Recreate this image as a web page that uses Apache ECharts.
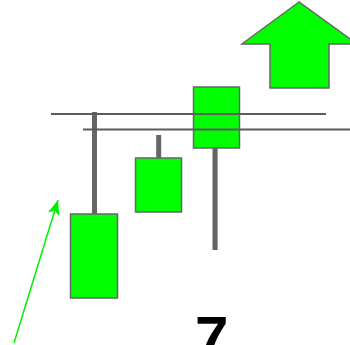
<!DOCTYPE html>
<html>
<head>
<meta charset="utf-8">
<script src="https://cdn.jsdelivr.net/npm/echarts@6/dist/echarts.min.js"></script>
<style>
  html, body { margin: 0; padding: 0; background: #fff; }
  #main { width: 350px; height: 345px; }
</style>
</head>
<body>
<div id="main"></div>
<script>
// candle positions on the x scale and their open / close / low / high
var candleX = [94, 158.5, 216.5];
var wickX = [94.5, 158.7, 215];
var candleOpen = [47, 133, 197];
var candleClose = [131, 187, 258];
var candleLow = [47, 133, 95];
var candleHigh = [233, 210, 258];

// two horizontal levels: [x start, x end, y]
var levelStart = [51, 83];
var levelEnd = [326, 352];
var levelY = [231, 215.5];

// big up arrow outline
var upArrowX = [299, 242, 270, 270, 329, 329, 357];
var upArrowY = [343, 301, 301, 257, 257, 301, 301];

// thin trend arrow
var trendFrom = [14, 2];
var trendTo = [58, 145];

var labelText = '7';

var dom = document.getElementById('main');
var myChart = echarts.init(dom);

var candleData = candleX.map(function(x, i) {
    return [x, candleOpen[i], candleClose[i], candleLow[i], candleHigh[i]];
});
var wickData = wickX.map(function(x, i) {
    return [x, candleLow[i], candleHigh[i]];
});
var arrowData = upArrowX.map(function(x, i) {
    return [x, upArrowY[i]];
});

var series = [
    {
        type: 'custom',
        z: 1,
        data: wickData,
        encode: {x: 0, y: [1, 2]},
        renderItem: function(params, api) {
            var lo = api.coord([api.value(0), api.value(1)]);
            var hi = api.coord([api.value(0), api.value(2)]);
            return {
                type: 'line',
                shape: {x1: lo[0], y1: lo[1], x2: hi[0], y2: hi[1]},
                style: {stroke: '#666666', lineWidth: 5}
            };
        }
    },
    {
        type: 'candlestick',
        z: 2,
        barWidth: 47,
        data: candleData,
        encode: {x: 0, y: [1, 2, 3, 4]},
        itemStyle: {
            color: '#00ff00',
            color0: '#00ff00',
            borderColor: '#666666',
            borderColor0: '#666666',
            borderWidth: 1.5
        },
        emphasis: {disabled: true}
    },
    {
        type: 'custom',
        z: 2,
        data: arrowData,
        renderItem: function(params, api) {
            if (params.dataIndex !== 0) return;
            var pts = arrowData.map(function(p) { return api.coord(p); });
            return {
                type: 'polygon',
                shape: {points: pts},
                style: {fill: '#00ff00', stroke: '#666666', lineWidth: 1.5}
            };
        }
    }
];

levelY.forEach(function(y, i) {
    series.push({
        type: 'line',
        z: 3,
        symbol: 'none',
        silent: true,
        data: [[levelStart[i], y], [levelEnd[i], y]],
        lineStyle: {color: '#5c5c5c', width: 2}
    });
});

series.push({
    type: 'line',
    z: 3,
    symbol: 'none',
    data: [],
    markLine: {
        silent: true,
        symbol: ['none', 'arrow'],
        symbolSize: [9, 15],
        label: {show: false},
        lineStyle: {color: '#00ee00', width: 1.5, type: 'solid'},
        data: [[{coord: trendFrom}, {coord: trendTo}]]
    }
});

var option = {
    animation: false,
    grid: {left: 0, right: 0, top: 0, bottom: 0},
    xAxis: {type: 'value', min: 0, max: 350, show: false},
    yAxis: {type: 'value', min: 0, max: 345, show: false},
    title: {
        text: labelText,
        left: 190,
        top: 306,
        textStyle: {
            fontFamily: 'Liberation Sans',
            fontSize: 60,
            fontWeight: 'bold',
            color: '#000'
        }
    },
    series: series
};

myChart.setOption(option, true);
</script>
</body>
</html>
